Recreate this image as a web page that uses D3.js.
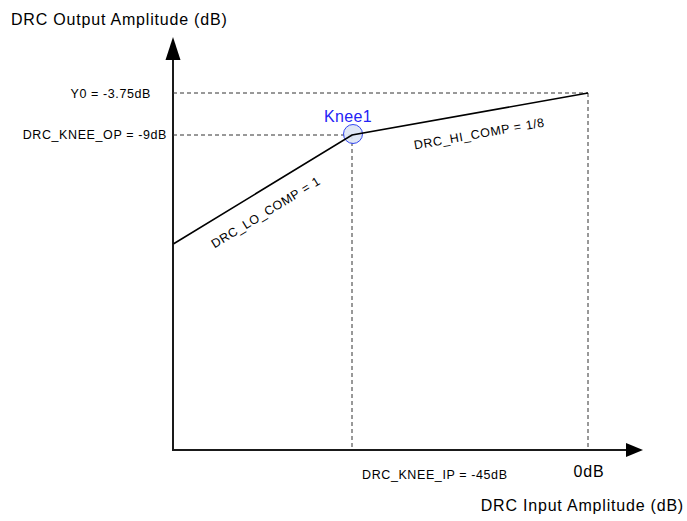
<!DOCTYPE html>
<html>
<head>
<meta charset="utf-8">
<script src="https://cdn.jsdelivr.net/npm/d3@7/dist/d3.min.js"></script>
<style>
  html, body { margin: 0; padding: 0; background: #fff; }
  svg { display: block; font-family: "Liberation Sans", Arial, sans-serif; }
</style>
</head>
<body>
<svg id="chart" width="687" height="521"></svg>
<script>
// DRC static transfer curve: input dB -> output dB (schematic, two slopes)
const curveInput  = [-79, -45, 0];        // start, knee, full scale
const curveOutput = [-22.6, -9, -3.75];
const kneeInput = -45, kneeOutput = -9;
const y0Output = -3.75, fullScaleInput = 0;

const labels = {
  yTitle: "DRC Output Amplitude (dB)",
  xTitle: "DRC Input Amplitude (dB)",
  y0: "Y0 = -3.75dB",
  kneeOp: "DRC_KNEE_OP = -9dB",
  kneeIp: "DRC_KNEE_IP = -45dB",
  zero: "0dB",
  knee: "Knee1",
  lo: "DRC_LO_COMP = 1",
  hi: "DRC_HI_COMP = 1/8"
};

const svg = d3.select("#chart");
const originX = 173, originY = 450;
const big = 16, small = 12.5, bigSp = 0.8, smallSp = 0.6;

const x = d3.scaleLinear().domain([-45, 0]).range([352, 588]);
const y = d3.scaleLinear().domain([-9, -3.75]).range([135, 93]);

// axes with arrowheads
svg.append("line").attr("x1", originX).attr("y1", originY).attr("x2", originX).attr("y2", 58)
  .attr("stroke", "#1a1a1a").attr("stroke-width", 2);
svg.append("path").attr("d", `M${originX},37 L${originX - 7.5},60 L${originX + 7.5},60 Z`).attr("fill", "#000");
svg.append("line").attr("x1", originX - 1).attr("y1", originY).attr("x2", 628).attr("y2", originY)
  .attr("stroke", "#1a1a1a").attr("stroke-width", 2);
svg.append("path").attr("d", `M643,${originY} L626,${originY - 7} L626,${originY + 7} Z`).attr("fill", "#000");

// dashed guide lines
const dash = (x1, y1, x2, y2) => svg.append("line")
  .attr("x1", x1).attr("y1", y1).attr("x2", x2).attr("y2", y2)
  .attr("stroke", "#333").attr("stroke-width", 1).attr("stroke-dasharray", "4,3");
dash(originX, y(y0Output), x(fullScaleInput), y(y0Output));
dash(originX, y(kneeOutput), x(kneeInput), y(kneeOutput));
dash(x(kneeInput), y(kneeOutput), x(kneeInput), originY);
dash(x(fullScaleInput), y(y0Output), x(fullScaleInput), originY);

// knee marker (under the curve)
svg.append("circle").attr("cx", x(kneeInput) + 1).attr("cy", y(kneeOutput) - 1).attr("r", 9.5)
  .attr("fill", "#dde4f4").attr("fill-opacity", 0.9).attr("stroke", "#3347f0").attr("stroke-width", 1);
svg.append("text").attr("x", x(kneeInput) - 4).attr("y", y(kneeOutput) - 13)
  .attr("text-anchor", "middle").attr("font-size", big).attr("letter-spacing", 0.3)
  .attr("fill", "#2323f5").text(labels.knee);

// transfer curve
const pts = curveInput.map((v, i) => [v, curveOutput[i]]);
svg.append("path")
  .attr("d", d3.line().x(d => x(d[0])).y(d => y(d[1]))(pts))
  .attr("fill", "none").attr("stroke", "#000").attr("stroke-width", 1.6);

// titles and value labels
const txt = (s, xx, yy, size, sp, anchor) => svg.append("text")
  .attr("x", xx).attr("y", yy).attr("font-size", size).attr("letter-spacing", sp)
  .attr("text-anchor", anchor).attr("fill", "#000").text(s);
txt(labels.yTitle, 11, 25, big, bigSp, "start");
txt(labels.xTitle, 684, 511, big, bigSp, "end");
txt(labels.zero, x(fullScaleInput) + 1, 477, big, bigSp, "middle");
txt(labels.kneeIp, 362, 479, small, smallSp, "start");
txt(labels.y0, 151, y(y0Output) + 5, small, smallSp, "end");
txt(labels.kneeOp, 167, y(kneeOutput) + 4, small, smallSp, "end");

// slope labels, rotated along each segment
const segAngle = (a, b) => Math.atan2(y(b[1]) - y(a[1]), x(b[0]) - x(a[0])) * 180 / Math.PI;
svg.append("text").attr("transform", `translate(268,216) rotate(${segAngle(pts[0], pts[1])})`)
  .attr("text-anchor", "middle").attr("font-size", small).attr("letter-spacing", smallSp)
  .attr("fill", "#000").text(labels.lo);
svg.append("text").attr("transform", `translate(480,138) rotate(${segAngle(pts[1], pts[2])})`)
  .attr("text-anchor", "middle").attr("font-size", small).attr("letter-spacing", smallSp)
  .attr("fill", "#000").text(labels.hi);
</script>
</body>
</html>
